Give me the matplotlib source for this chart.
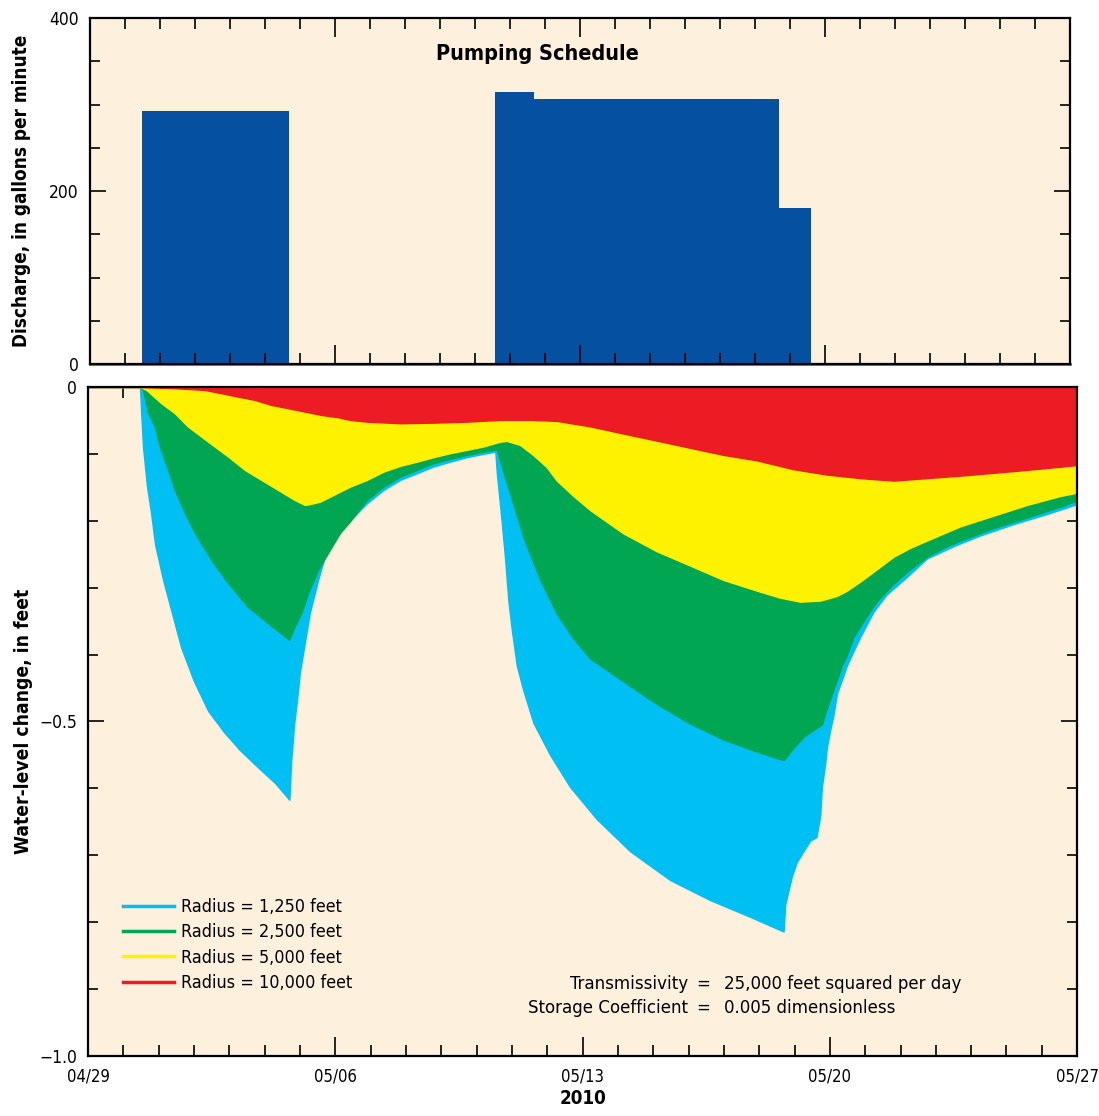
import datetime as dt
import matplotlib
matplotlib.use('Agg')
import matplotlib.pyplot as plt
import matplotlib.dates as mdates
from matplotlib.ticker import MultipleLocator, FixedLocator
import numpy as np

# the original uses a condensed type
plt.rcParams['font.family'] = ['DejaVu Sans']
plt.rcParams['font.stretch'] = 'condensed'

start = dt.datetime(2010, 4, 29)
x0 = mdates.date2num(start)

# pumping schedule, days after 04/29 00:00 and rate (gpm) held until next change
pump_days = [0.0, 1.486, 5.686, 11.571, 12.686, 19.686, 20.6, 28.0]
pump_gpm = [0, 293, 0, 314, 306, 180, 0, 0]

# water-level change (feet), by radius
cyan_days = [0.0, 1.47, 1.515, 1.557, 1.67, 1.784, 1.897, 2.123, 2.633, 3.0, 3.398, 3.85, 4.303, 4.8, 5.294, 5.70,
             5.747, 5.832, 5.926, 5.994, 6.087, 6.181, 6.277, 6.512, 6.71, 7.041, 7.418, 7.891,
             8.361, 8.834, 9.306, 9.776, 10.249, 10.722, 11.192, 11.53,
             11.571, 11.713, 11.806, 11.90, 11.996, 12.138, 12.325, 12.607, 13.08, 13.647, 14.402,
             15.345, 16.478, 17.61, 18.743, 19.69,
             19.734, 19.827, 19.923, 20.065, 20.252, 20.442, 20.62, 20.725, 20.773, 20.866, 20.914,
             21.008, 21.101, 21.197, 21.339, 21.481, 21.668, 21.857, 22.234, 22.613, 23.083, 23.746,
             24.499, 25.255, 26.198, 27.143, 28.0]
cyan_ft = [0.0, 0.0, -0.049, -0.09, -0.149, -0.188, -0.235, -0.288, -0.389, -0.44, -0.484, -0.516, -0.543, -0.568,
           -0.592, -0.617,
           -0.562, -0.505, -0.463, -0.4275, -0.398, -0.368, -0.338, -0.2885, -0.252, -0.224, -0.199, -0.174,
           -0.154, -0.139, -0.129, -0.119, -0.1117, -0.105, -0.100, -0.0967,
           -0.128, -0.203, -0.2565, -0.32, -0.363, -0.4166, -0.454, -0.502, -0.55, -0.598, -0.646,
           -0.694, -0.737, -0.767, -0.792, -0.814,
           -0.774, -0.753, -0.7316, -0.71, -0.694, -0.678, -0.673, -0.641, -0.598, -0.5635, -0.5395,
           -0.513, -0.491, -0.459, -0.438, -0.4166, -0.395, -0.374, -0.336, -0.31, -0.2885, -0.2565,
           -0.238, -0.222, -0.205, -0.19, -0.175]

green_days = [0.0, 1.47, 1.557, 1.699, 1.888, 2.03, 2.265, 2.455, 2.738, 3.021, 3.491, 3.964, 4.53,
              5.096, 5.69, 5.852, 6.039, 6.229, 6.512, 6.795, 7.135, 7.418, 7.891, 8.361, 8.834,
              9.306, 9.776, 10.249, 10.722, 11.192, 11.571, 11.854, 12.138, 12.325, 12.797, 13.27,
              13.74, 14.213, 15.156, 16.102, 17.044, 17.987, 18.932, 19.69, 19.969, 20.252, 20.535,
              20.773, 20.914, 21.056, 21.197, 21.339, 21.481, 21.668, 21.857, 22.047, 22.33, 22.8,
              23.273, 23.746, 24.216, 24.689, 25.632, 26.577, 27.52, 28.0]
green_ft = [0.0, 0.0, -0.0045, -0.039, -0.059, -0.089, -0.124, -0.154, -0.188, -0.218, -0.2586, -0.293, -0.329,
            -0.353, -0.378, -0.358, -0.338, -0.308, -0.2735, -0.248, -0.218, -0.201, -0.169, -0.149, -0.134,
            -0.124, -0.114, -0.1076, -0.1016, -0.0967, -0.0936, -0.1444, -0.192, -0.225, -0.288, -0.339,
            -0.376, -0.406, -0.44, -0.474, -0.503, -0.527, -0.545, -0.558, -0.5395, -0.523, -0.5127,
            -0.5046, -0.4807, -0.459, -0.438, -0.4166, -0.4006, -0.3737, -0.358, -0.342, -0.3205, -0.294,
            -0.2725, -0.2538, -0.2405, -0.2297, -0.211, -0.195, -0.179, -0.1697]

yellow_days = [0.0, 1.472, 1.651, 2.075, 2.455, 2.831, 3.208, 3.587, 3.964, 4.437, 4.907, 5.379, 5.852,
               6.135, 6.285, 6.569, 6.945, 7.418, 7.891, 8.361, 8.834, 9.306, 9.776, 10.249, 10.722,
               11.192, 11.665, 11.854, 12.231, 12.607, 12.987, 13.27, 13.74, 14.213, 15.156, 16.102, 17.044,
               17.987, 18.932, 19.592, 20.159, 20.725, 21.197, 21.481, 21.857, 22.33, 22.8, 23.273,
               23.746, 24.216, 24.689, 25.632, 26.577, 27.52, 28.0]
yellow_ft = [0.0, 0.0, -0.0045, -0.0244, -0.0393, -0.0593, -0.0743, -0.0892, -0.104, -0.124, -0.139, -0.154, -0.169,
             -0.1764, -0.175, -0.1715, -0.1614, -0.149, -0.139, -0.1266, -0.118, -0.1117, -0.105, -0.099, -0.094,
             -0.089, -0.0818, -0.0807, -0.0867, -0.102, -0.12, -0.14, -0.163, -0.184, -0.219, -0.2457, -0.267,
             -0.2885, -0.3045, -0.315, -0.321, -0.3194, -0.3124, -0.3045, -0.291, -0.2725, -0.2538, -0.2405,
             -0.2297, -0.219, -0.2084, -0.1924, -0.1764, -0.163, -0.158]

red_days = [0.0, 1.47, 2.32, 3.304, 3.774, 4.247, 4.72, 5.19, 5.663, 6.135, 6.605, 7.078, 7.418, 7.891,
            8.834, 9.776, 10.722, 11.665, 12.607, 13.27, 14.213, 15.156, 16.102, 17.044, 17.987, 18.932,
            19.969, 20.914, 21.857, 22.8, 23.746, 24.689, 25.632, 26.577, 27.52, 28.0]
red_ft = [0.0, 0.0, -0.0015, -0.0045, -0.0094, -0.0145, -0.0194, -0.0269, -0.0318, -0.0369, -0.0419, -0.0453,
          -0.0493, -0.0519, -0.0543, -0.0534, -0.0519, -0.0493, -0.0493, -0.0508, -0.0589, -0.0697, -0.0803,
          -0.091, -0.1016, -0.1097, -0.123, -0.131, -0.1363, -0.140, -0.1363, -0.1326, -0.1284, -0.124,
          -0.1193, -0.1166]

radius_labels = ['Radius = 1,250 feet', 'Radius = 2,500 feet', 'Radius = 5,000 feet', 'Radius = 10,000 feet']
radius_colors = ['#00bff3', '#00a651', '#fff200', '#ed1c24']

bg = '#fdf0dc'
fig = plt.figure(figsize=(10.99, 11.16), dpi=100)
ax1 = fig.add_axes([0.0819, 0.6738, 0.8917, 0.3100], facecolor=bg)
ax2 = fig.add_axes([0.0801, 0.0538, 0.9000, 0.5995], facecolor=bg)

# --- pumping schedule
px = x0 + np.array(pump_days)
ax1.fill_between(px, 0, pump_gpm, step='post', color='#0550a1', lw=0)
ax1.plot(px, np.zeros(len(px)), color='#3f74b8', lw=2.0, clip_on=False)
ax1.set_ylim(0, 400)
ax1.set_xlim(x0, x0 + 28)
ax1.yaxis.set_major_locator(FixedLocator([0, 200, 400]))
ax1.yaxis.set_minor_locator(MultipleLocator(50))
ax1.text(0.456, 0.895, 'Pumping Schedule', transform=ax1.transAxes, ha='center', va='center',
         fontsize=15.5, fontweight='bold')
ax1.set_ylabel('Discharge, in gallons per minute', fontsize=13.6, fontweight='bold', labelpad=13)

# --- drawdown
series = [(cyan_days, cyan_ft), (green_days, green_ft), (yellow_days, yellow_ft), (red_days, red_ft)]
for (d, v), c, lab in zip(series, radius_colors, radius_labels):
    ax2.fill_between(x0 + np.array(d), 0, v, color=c, lw=1.0, edgecolor=c)
    ax2.plot([], [], color=c, lw=2.5, label=lab)
ax2.set_axisbelow(True)
ax2.set_ylim(-1.0, 0)
ax2.set_xlim(x0, x0 + 28)
ax2.yaxis.set_major_locator(FixedLocator([-1.0, -0.5, 0]))
ax2.yaxis.set_major_formatter(plt.FuncFormatter(lambda v, p: '0' if v == 0 else ('%.1f' % v).replace('-', '\u2212')))
ax2.yaxis.set_minor_locator(MultipleLocator(0.1))
ax2.set_ylabel('Water-level change, in feet', fontsize=13.8, fontweight='bold', labelpad=4)
ax2.set_xlabel('2010', fontsize=13.5, fontweight='bold', labelpad=3)

week_ticks = [x0 + 7 * k for k in range(5)]
for ax in (ax1, ax2):
    ax.xaxis.set_major_locator(FixedLocator(week_ticks))
    ax.xaxis.set_minor_locator(MultipleLocator(1))
    ax.xaxis.set_major_formatter(mdates.DateFormatter('%m/%d'))
    ax.tick_params(which='both', direction='in', top=True, right=True, width=1.2, labelsize=12.5)
    ax.tick_params(axis='x', which='major', length=13.5, pad=8)
    ax.tick_params(axis='x', which='minor', length=8)
    ax.tick_params(axis='y', which='major', length=11.5, pad=8)
    ax.tick_params(axis='y', which='minor', length=7)
    for s in ax.spines.values():
        s.set_linewidth(1.6)
ax1.tick_params(axis='x', labelbottom=False)
ax2.tick_params(axis='x', labelsize=12)

leg = ax2.legend(loc='upper left', bbox_to_anchor=(0.028, 0.247), frameon=False, fontsize=12.9,
                 handlelength=2.84, handletextpad=0.4, labelspacing=0.41, borderaxespad=0)

# aquifer parameters
ty = [0.108, 0.072]
names = ['Transmissivity', 'Storage Coefficient']
vals = ['25,000 feet squared per day', '0.005 dimensionless']
for y, n, v in zip(ty, names, vals):
    ax2.text(0.6067, y, n, transform=ax2.transAxes, ha='right', va='center', fontsize=13.3)
    ax2.text(0.6218, y, '=', transform=ax2.transAxes, ha='center', va='center', fontsize=13.3)
    ax2.text(0.643, y, v, transform=ax2.transAxes, ha='left', va='center', fontsize=13.3)

fig.savefig('out.png', dpi=100, facecolor='white')
